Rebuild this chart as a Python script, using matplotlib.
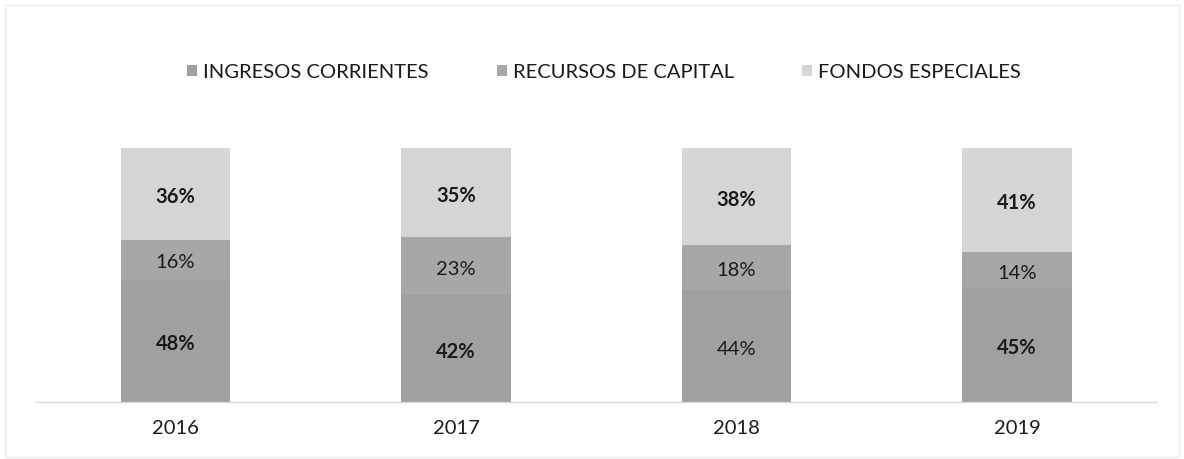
import matplotlib
matplotlib.use("Agg")
import matplotlib.pyplot as plt
from matplotlib.patches import Rectangle
import numpy as np

years = ["2016", "2017", "2018", "2019"]
series_names = ["INGRESOS CORRIENTES", "RECURSOS DE CAPITAL", "FONDOS ESPECIALES"]
ingresos = [48, 42, 44, 45]
recursos = [16, 23, 18, 14]
fondos = [36, 35, 38, 41]

colors = ["#a0a0a0", "#a7a7a7", "#d5d5d5"]
label_bold = [[True, True, False, True], [False, False, False, False], [True, True, True, True]]

plt.rcParams['font.family'] = ['Lato', 'DejaVu Sans']

fig = plt.figure(figsize=(11.84, 4.59), dpi=100)
ax = fig.add_axes([0.0296, 0.124, 0.948, 0.553])

x = np.arange(len(years))
width = 0.39
bottoms = np.zeros(len(years))
data = [ingresos, recursos, fondos]
for i, (name, vals) in enumerate(zip(series_names, data)):
    ax.bar(x, vals, width, bottom=bottoms, color=colors[i], label=name, linewidth=0)
    for j, v in enumerate(vals):
        ax.text(x[j], bottoms[j] + v / 2 - 1.2, f"{v}%", ha="center", va="center",
                fontsize=14.5, color="#1a1a1a",
                fontweight="bold" if label_bold[i][j] else "normal")
    bottoms += np.array(vals)

ax.set_xlim(-0.5, 3.5)
ax.set_ylim(0, 100)
ax.set_xticks(x)
ax.set_xticklabels(years, fontsize=14.5, color="#1a1a1a")
ax.tick_params(axis="x", length=0, pad=13)
ax.set_yticks([])
for s in ["top", "right", "left"]:
    ax.spines[s].set_visible(False)
ax.spines["bottom"].set_color("#d9d9d9")
ax.spines["bottom"].set_linewidth(1)

leg = fig.legend(loc="center", bbox_to_anchor=(0.51, 0.843), ncol=3, frameon=False,
                 fontsize=14.5, handlelength=0.5, handleheight=0.5, handletextpad=0.3,
                 columnspacing=3.4)
for t in leg.get_texts():
    t.set_color("#1a1a1a")

fig.patches.append(Rectangle((0.004, 0.004), 0.992, 0.985, transform=fig.transFigure,
                             fill=False, edgecolor="#ececec", linewidth=1))

fig.savefig("out.png", dpi=100)
